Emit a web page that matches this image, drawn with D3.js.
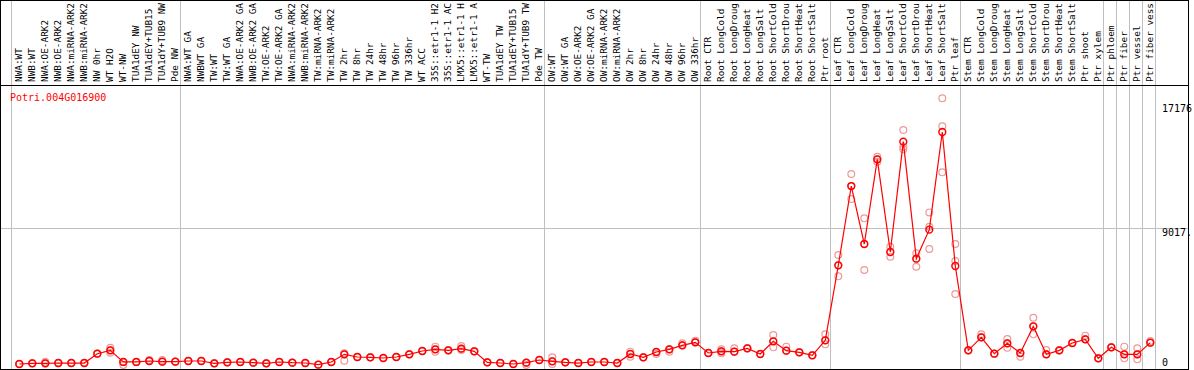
<!DOCTYPE html>
<html><head><meta charset="utf-8">
<script src="https://cdn.jsdelivr.net/npm/d3@7"></script>
<style>html,body{margin:0;padding:0;background:#fff;}svg{display:block;}</style>
</head><body>
<svg id="chart" width="1194" height="370"></svg>
<script>
const geneName = "Potri.004G016900";
const categories = [
 "NWA:WT","NWB:WT","NWA:OE-ARK2","NWB:OE-ARK2","NWA:miRNA-ARK2","NWB:miRNA-ARK2","NW 0hr","WT H2O","WT-NW","TUA1dEY NW","TUA1dEY+TUB15","TUA1dY+TUB9 NW","Pde NW",
 "NWA:WT GA","NWBWT GA","TW:WT","TW:WT GA","NWA:OE-ARK2 GA","NWB:OE-ARK2 GA","TW:OE-ARK2","TW:OE-ARK2 GA","NWA:miRNA-ARK2","NWB:miRNA-ARK2","TW:miRNA-ARK2","TW:miRNA-ARK2","TW 2hr","TW 8hr","TW 24hr","TW 48hr","TW 96hr","TW 336hr","WT ACC","35S::etr1-1 H2","35S::etr1-1 AC","LMX5::etr1-1 H","LMX5::etr1-1 A","WT-TW","TUA1dEY TW","TUA1dEY+TUB15","TUA1dY+TUB9 TW","Pde TW",
 "OW:WT","OW:WT GA","OW:OE-ARK2","OW:OE-ARK2 GA","OW:miRNA-ARK2","OW:miRNA-ARK2","OW 2hr","OW 8hr","OW 24hr","OW 48hr","OW 96hr","OW 336hr",
 "Root CTR","Root LongCold","Root LongDroug","Root LongHeat","Root LongSalt","Root ShortCold","Root ShortDrou","Root ShortHeat","Root ShortSalt","Ptr root",
 "Leaf CTR","Leaf LongCold","Leaf LongDroug","Leaf LongHeat","Leaf LongSalt","Leaf ShortCold","Leaf ShortDrou","Leaf ShortHeat","Leaf ShortSalt","Ptr leaf",
 "Stem CTR","Stem LongCold","Stem LongDroug","Stem LongHeat","Stem LongSalt","Stem ShortCold","Stem ShortDrou","Stem ShortHeat","Stem ShortSalt","Ptr shoot","Ptr xylem",
 "Ptr phloem","Ptr fiber","Ptr vessel","Ptr fiber vess"
];
// column indices where a group separator line sits
const groupBreaks = [0,13,41,53,63,73,84,85,86,87,88];

const meanValues = [66,110,110,130,130,130,745,965,200,200,263,220,220,
 263,263,110,175,197,153,110,197,153,130,22,197,702,526,504,460,526,702,921,1031,965,1075,899,175,130,66,153,329,
 241,175,130,197,197,130,724,504,855,1031,1294,1491,
 790,899,877,1097,724,1557,943,833,636,1623,
 6558,11778,7962,13533,7435,14696,6997,8905,15332,6514,
 965,1821,746,1426,790,2544,702,965,1448,1689,439,1163,
 702,702,1470];
const rep1 = [66,110,220,130,130,130,745,1140,0,200,329,329,220,
 263,263,110,175,197,153,110,197,153,130,22,197,768,526,504,460,526,702,921,1206,965,1250,899,175,130,66,0,329,
 504,175,130,197,197,130,877,504,724,877,1426,1601,
 790,1031,1097,1097,724,1974,1206,833,636,2018,
 7238,12568,9650,13709,7786,15463,7348,10044,17549,7962,
 965,2018,746,1711,548,3114,987,965,1448,1930,439,1163,
 1206,1097,1579];
const rep2 = [66,110,110,130,130,130,745,810,200,200,263,220,220,
 263,263,110,175,197,153,110,197,153,130,22,197,285,526,504,460,526,702,921,877,965,987,899,175,130,66,153,329,
 66,175,130,197,197,130,548,504,855,1031,1294,1491,
 790,768,877,1097,724,1163,943,833,636,1360,
 5834,10923,6251,13380,7128,14367,6470,7633,15704,6843,
 965,1821,746,1140,790,2018,702,965,1448,1689,439,1163,
 439,373,1470];
const rep3 = [66,110,110,130,130,130,745,965,200,200,263,220,220,
 263,263,110,175,197,153,110,197,153,130,22,197,702,526,504,460,526,702,921,1031,965,1075,899,175,130,66,153,329,
 241,175,130,197,197,130,724,504,855,1031,1294,1491,
 790,899,877,1097,724,1557,943,833,636,1623,
 6558,11778,7962,13533,7435,14191,6997,9102,12678,4672,
 965,1821,746,1426,790,2544,702,965,1448,1689,439,1163,
 702,702,1470];
const tickValues = [17176, 9017, 0];
const tickLabels = ["17176", "9017.", "0"];

const svg = d3.select("#chart");
const font = "'DejaVu Sans Mono', 'Liberation Mono', monospace";
const n = categories.length;
const xCol = d3.scaleLinear().domain([0, n]).range([11, 1155]);
const px = i => xCol(i) + 8.3;
const y = d3.scaleLinear().domain([0, 17176]).range([365, 104]);

// frame
svg.append("rect").attr("x",0.5).attr("y",0.5).attr("width",1188).attr("height",369)
  .attr("fill","none").attr("stroke","#000").attr("stroke-width",1);

// vertical group separators
svg.append("g").selectAll("line").data(groupBreaks).join("line")
  .attr("x1", d => Math.round(xCol(d)) + 0.5).attr("x2", d => Math.round(xCol(d)) + 0.5)
  .attr("y1", 1).attr("y2", 369)
  .attr("stroke", "#c0c0c0").attr("stroke-width", 1);

// horizontal gridline at middle tick
svg.append("g").selectAll("line").data(tickValues.filter(v => v > 0 && v < 17000)).join("line")
  .attr("x1", 1).attr("x2", 1188)
  .attr("y1", d => Math.round(y(d)) + 0.5).attr("y2", d => Math.round(y(d)) + 0.5)
  .attr("stroke", "#c0c0c0").attr("stroke-width", 1);

// header separator
svg.append("line").attr("x1",0).attr("x2",1189).attr("y1",85.5).attr("y2",85.5)
  .attr("stroke","#000").attr("stroke-width",1);

// category labels (rotated)
svg.append("g").selectAll("text").data(categories).join("text")
  .attr("transform", (d,i) => `translate(${px(i) + 3},82) rotate(-90)`)
  .attr("font-family", font).attr("font-size", 9.4).attr("fill", "#000")
  .text(d => d);

// gene name
svg.append("text").attr("x", 10).attr("y", 101)
  .attr("font-family", font).attr("font-size", 10).attr("fill", "#ff0000")
  .text(geneName);

// right axis labels
svg.append("g").selectAll("text").data(tickValues).join("text")
  .attr("x", 1162)
  .attr("y", (d,i) => d === 0 ? y(d) + 1 : y(d) + 8)
  .attr("font-family", font).attr("font-size", 10).attr("fill", "#000")
  .text((d,i) => tickLabels[i]);

// replicate circles
const reps = [rep1, rep2, rep3];
const repPts = [];
reps.forEach(r => r.forEach((v,i) => repPts.push({i, v})));
svg.append("g").selectAll("circle").data(repPts).join("circle")
  .attr("cx", d => px(d.i)).attr("cy", d => y(d.v)).attr("r", 3.4)
  .attr("fill", "none").attr("stroke", "#ee9898").attr("stroke-width", 1.2);

// mean line
const line = d3.line().x((d,i) => px(i)).y(d => y(d));
svg.append("path").datum(meanValues).attr("d", line)
  .attr("fill", "none").attr("stroke", "#ff0000").attr("stroke-width", 1.2);

// mean circles
svg.append("g").selectAll("circle").data(meanValues).join("circle")
  .attr("cx", (d,i) => px(i)).attr("cy", d => y(d)).attr("r", 3.4)
  .attr("fill", "none").attr("stroke", "#ff0000").attr("stroke-width", 1.5);
</script>
</body></html>
